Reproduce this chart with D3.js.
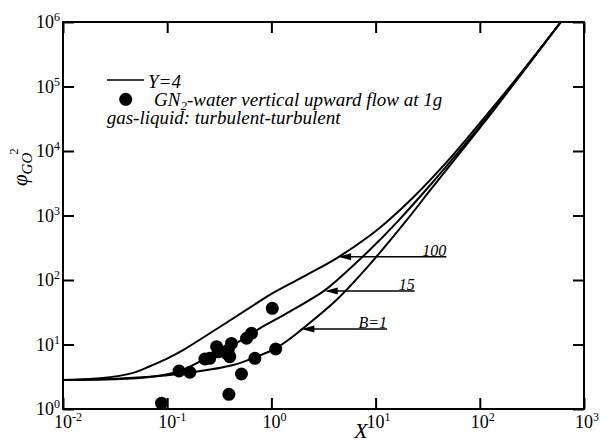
<!DOCTYPE html>
<html><head><meta charset="utf-8">
<script src="https://cdn.jsdelivr.net/npm/d3@7"></script>
<style>
body{margin:0;background:#fff;}
</style></head>
<body>
<svg id="c" width="608" height="441" style="font-family:'Liberation Serif', serif"></svg>
<script>
// ---- data ----
const xTicks = [1e-2, 1e-1, 1e0, 1e1, 1e2, 1e3];
const xTickExp = ["-2", "-1", "0", "1", "2", "3"];
const yTicks = [1e0, 1e1, 1e2, 1e3, 1e4, 1e5, 1e6];
const yTickExp = ["0", "1", "2", "3", "4", "5", "6"];

const curveB100X = [0.01, 0.0226, 0.0472, 0.0682, 0.0986, 0.142, 0.298, 0.621, 0.966, 2.01, 4.21, 8.77, 12.7, 22.9, 47.8, 99.5, 207, 600];
const curveB100Y = [2.82, 2.99, 3.63, 4.6, 6.0, 8.2, 17.4, 37.2, 58.9, 112, 217, 486, 787, 1901, 6653, 26850, 112200, 1e6];

const curveB15X = [0.01, 0.0352, 0.0682, 0.132, 0.230, 0.430, 0.774, 1.50, 3.25, 4.21, 8.77, 16.4, 33.0, 68.9, 99.5, 207, 600];
const curveB15Y = [2.82, 2.92, 3.13, 3.88, 5.96, 9.82, 17.8, 32.3, 69.2, 97.7, 292, 820, 2891, 11670, 24100, 107200, 1e6];

const curveB1X = [0.01, 0.0316, 0.0682, 0.1, 0.166, 0.430, 0.719, 1.10, 1.50, 1.94, 4.21, 8.77, 19.7, 33.0, 68.9, 144, 600];
const curveB1Y = [2.82, 2.95, 3.16, 3.35, 3.67, 4.81, 6.47, 8.73, 12.2, 17.0, 49.0, 174, 832, 2399, 10720, 48420, 1e6];

const dataX = [1.02, 0.644, 0.577, 0.414, 0.298, 0.385, 0.308, 0.399, 0.256, 0.230, 0.694, 1.10, 0.130, 0.165, 0.516, 0.391, 0.0883, 0.372];
const dataY = [36.4, 14.9, 12.5, 10.4, 9.25, 8.2, 7.7, 6.47, 6.11, 5.96, 6.11, 8.51, 3.88, 3.71, 3.49, 1.69, 1.23, 7.3];

const arrowLabels = ["100", "15", "B=1"];
const arrowTipX = [4.37, 3.25, 1.94];
const arrowEndX = [47.7, 23.7, 12.9];
const arrowY = [229.7, 67.5, 17.4];

// ---- layout ----
const FONT = "'Liberation Serif', serif";
const L = 63, R = 584, T = 22, B = 409;
const svg = d3.select("#c");
const x = d3.scaleLog().domain([1e-2, 1e3]).range([L, R]);
const y = d3.scaleLog().domain([1, 1e6]).range([B, T]);

const tick = 11;
function styleAxis(g){
  g.select(".domain").remove();
  g.selectAll(".tick line").attr("stroke", "#000").attr("stroke-width", 2);
}
svg.append("g").attr("transform", `translate(0,${B})`)
  .call(d3.axisBottom(x).tickValues(xTicks).tickSizeInner(-tick).tickSizeOuter(0).tickFormat(""))
  .call(styleAxis);
svg.append("g").attr("transform", `translate(0,${T})`)
  .call(d3.axisTop(x).tickValues(xTicks).tickSizeInner(-tick).tickSizeOuter(0).tickFormat(""))
  .call(styleAxis);
svg.append("g").attr("transform", `translate(${L},0)`)
  .call(d3.axisLeft(y).tickValues(yTicks).tickSizeInner(-tick).tickSizeOuter(0).tickFormat(""))
  .call(styleAxis);
svg.append("g").attr("transform", `translate(${R},0)`)
  .call(d3.axisRight(y).tickValues(yTicks).tickSizeInner(-tick).tickSizeOuter(0).tickFormat(""))
  .call(styleAxis);

svg.append("rect").attr("x", L).attr("y", T).attr("width", R - L).attr("height", B - T)
  .attr("fill", "none").attr("stroke", "#000").attr("stroke-width", 2);

function txt(){ return svg.append("text").style("font-family", FONT).attr("fill", "#000"); }

// tick labels
xTicks.forEach((v, i) => {
  const t = txt().attr("x", x(v) - 9).attr("y", B + 19).attr("font-size", 18);
  t.append("tspan").text("10");
  t.append("tspan").attr("dy", -7).attr("font-size", 12).text(xTickExp[i]);
});
yTicks.forEach((v, i) => {
  const t = txt().attr("x", 36).attr("y", y(v) + 6).attr("font-size", 18);
  t.append("tspan").text("10");
  t.append("tspan").attr("dy", -7).attr("font-size", 12).text(yTickExp[i]);
});

// axis titles
txt().attr("x", 361).attr("y", 438).attr("text-anchor", "middle")
  .attr("font-size", 22).attr("font-style", "italic").text("X");
const yl = txt().attr("transform", "translate(27,186) rotate(-90)").attr("font-style", "italic");
yl.append("tspan").attr("font-size", 21).text("φ");
yl.append("tspan").attr("font-size", 15).attr("dy", 5).text("GO");
yl.append("tspan").attr("font-size", 13).attr("dy", -14).attr("dx", -2).attr("font-style", "normal").text("2");

// curves
const line = d3.line().x(d => x(d[0])).y(d => y(d[1])).curve(d3.curveCatmullRom.alpha(0.5));
svg.append("clipPath").attr("id", "plot").append("rect")
  .attr("x", L).attr("y", T).attr("width", R - L).attr("height", B - T);
[[curveB100X, curveB100Y], [curveB15X, curveB15Y], [curveB1X, curveB1Y]].forEach(([cx, cy]) => {
  svg.append("path").datum(cx.map((v, i) => [v, cy[i]])).attr("clip-path", "url(#plot)")
    .attr("d", line).attr("fill", "none").attr("stroke", "#000").attr("stroke-width", 2);
});

// data points
svg.append("g").selectAll("circle").data(dataX.map((v, i) => [v, dataY[i]])).join("circle")
  .attr("cx", d => x(d[0])).attr("cy", d => y(d[1])).attr("r", 6.5).attr("fill", "#000");

// arrows with labels
arrowLabels.forEach((lab, i) => {
  const x0 = x(arrowTipX[i]), x1 = x(arrowEndX[i]), yy = y(arrowY[i]);
  svg.append("line").attr("x1", x0 + 8).attr("x2", x1).attr("y1", yy).attr("y2", yy)
    .attr("stroke", "#000").attr("stroke-width", 1.5);
  svg.append("path").attr("d", `M${x0},${yy} L${x0 + 13},${yy - 3.5} L${x0 + 13},${yy + 3.5} Z`).attr("fill", "#000");
  txt().attr("x", x1).attr("y", yy - 1).attr("text-anchor", "end")
    .attr("font-size", 16).attr("font-style", "italic").text(lab);
});

// legend
svg.append("line").attr("x1", 107).attr("x2", 144).attr("y1", 80).attr("y2", 80)
  .attr("stroke", "#000").attr("stroke-width", 1.5);
txt().attr("x", 148).attr("y", 88).attr("font-size", 19).attr("font-style", "italic").text("Y=4");
svg.append("circle").attr("cx", 125.7).attr("cy", 99.3).attr("r", 6.5).attr("fill", "#000");
const l2 = txt().attr("x", 154).attr("y", 106).attr("font-size", 19).attr("font-style", "italic");
l2.append("tspan").text("GN");
l2.append("tspan").attr("font-size", 13).attr("dy", 4).text("2");
l2.append("tspan").attr("dy", -4).text("-water vertical upward flow at 1g");
txt().attr("x", 106.7).attr("y", 124).attr("font-size", 19).attr("font-style", "italic")
  .text("gas-liquid: turbulent-turbulent");
</script></body></html>
